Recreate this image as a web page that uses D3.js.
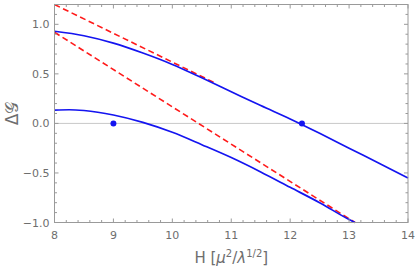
<!DOCTYPE html>
<html>
<head>
<meta charset="utf-8">
<script src="https://cdn.jsdelivr.net/npm/d3@7"></script>
<style>
  body { margin: 0; background: #fff; }
  svg { display: block; font-family: "DejaVu Sans", sans-serif; }
</style>
</head>
<body>
<svg id="chart" width="415" height="271"></svg>
<script>
(function(d3) {
  "use strict";

  // upper branch (blue, solid)
  var upperH = [8, 8.5, 9, 9.5, 10, 10.5, 11, 11.5, 12, 12.5, 13, 13.5, 14];
  var upperG = [0.93, 0.885, 0.81, 0.71, 0.595, 0.46, 0.32, 0.18, 0.045, -0.1, -0.25, -0.4, -0.55];
  // lower branch (blue, solid)
  var lowerH = [8, 8.25, 8.5, 9, 9.5, 10, 10.5, 11, 11.5, 12, 12.5, 13, 13.1];
  var lowerG = [0.135, 0.138, 0.13, 0.085, 0.01, -0.09, -0.215, -0.345, -0.49, -0.645, -0.8, -0.97, -1.0];
  // asymptotes (red, dashed): [start, end] points
  var asymUpperH = [8, 10.7];
  var asymUpperG = [1.2, 0.415];
  var asymLowerH = [8, 13.1];
  var asymLowerG = [0.92, -1.0];
  // marked points
  var dotH = [9, 12.2];
  var dotG = [0, 0];

  var xTicks = [8, 9, 10, 11, 12, 13, 14];
  var yTicks = [-1.0, -0.5, 0.0, 0.5, 1.0];

  var margin = { top: 4.5, right: 7, bottom: 48.5, left: 54.5 };
  var width = 415 - margin.left - margin.right;
  var height = 271 - margin.top - margin.bottom;

  var frameColor = "#9a9a9a";
  var labelColor = "#6e6e6e";

  var x = d3.scaleLinear().domain([8, 14]).range([0, width]);
  var y = d3.scaleLinear().domain([-1, 1.2]).range([height, 0]);

  var svg = d3.select("#chart")
    .append("g")
      .attr("transform", `translate(${margin.left}, ${margin.top})`);

  var zip = (hs, gs) => hs.map((h, i) => [h, gs[i]]);

  // zero line
  svg.append("line")
    .attr("x1", 0).attr("x2", width)
    .attr("y1", y(0)).attr("y2", y(0))
    .attr("stroke", "#c8c8c8")
    .attr("stroke-width", 1);

  var line = d3.line()
    .x(d => x(d[0]))
    .y(d => y(d[1]))
    .curve(d3.curveMonotoneX);

  var plot = svg.append("g");

  // red dashed asymptotes
  [zip(asymUpperH, asymUpperG), zip(asymLowerH, asymLowerG)].forEach(function(pts) {
    plot.append("path")
      .attr("d", d3.line().x(d => x(d[0])).y(d => y(d[1]))(pts))
      .attr("fill", "none")
      .attr("stroke", "#ff1a1a")
      .attr("stroke-width", 1.6)
      .attr("stroke-dasharray", "6,3.5");
  });

  // blue curves
  [zip(upperH, upperG), zip(lowerH, lowerG)].forEach(function(pts) {
    plot.append("path")
      .attr("d", line(pts))
      .attr("fill", "none")
      .attr("stroke", "#1414f0")
      .attr("stroke-width", 1.7);
  });

  // dots
  plot.selectAll("circle")
    .data(zip(dotH, dotG))
    .enter()
    .append("circle")
      .attr("cx", d => x(d[0]))
      .attr("cy", d => y(d[1]))
      .attr("r", 3)
      .attr("fill", "#1414f0");

  // frame
  svg.append("rect")
    .attr("width", width)
    .attr("height", height)
    .attr("fill", "none")
    .attr("stroke", frameColor)
    .attr("stroke-width", 1);

  // ticks, all four sides (labels only bottom / left)
  var xMinor = d3.range(8, 14.001, 0.2).filter(v => Math.abs(v - Math.round(v)) > 1e-6);
  var yMinor = d3.range(-1, 1.2001, 0.1).filter(v => Math.abs(v * 2 - Math.round(v * 2)) > 1e-6);

  var ticks = svg.append("g").attr("stroke", frameColor).attr("stroke-width", 1);
  function xTick(v, len) {
    ticks.append("line").attr("x1", x(v)).attr("x2", x(v)).attr("y1", height).attr("y2", height - len);
    ticks.append("line").attr("x1", x(v)).attr("x2", x(v)).attr("y1", 0).attr("y2", len);
  }
  function yTick(v, len) {
    ticks.append("line").attr("y1", y(v)).attr("y2", y(v)).attr("x1", 0).attr("x2", len);
    ticks.append("line").attr("y1", y(v)).attr("y2", y(v)).attr("x1", width).attr("x2", width - len);
  }
  xTicks.forEach(v => xTick(v, 4));
  xMinor.forEach(v => xTick(v, 2.5));
  yTicks.forEach(v => yTick(v, 4));
  yMinor.forEach(v => yTick(v, 2.5));

  svg.append("g").selectAll("text")
    .data(xTicks)
    .enter()
    .append("text")
      .attr("x", d => x(d))
      .attr("y", height + 16)
      .attr("text-anchor", "middle")
      .attr("font-size", 11)
      .attr("fill", labelColor)
      .text(d => d);

  svg.append("g").selectAll("text")
    .data(yTicks)
    .enter()
    .append("text")
      .attr("x", -5)
      .attr("y", d => y(d) + 4)
      .attr("text-anchor", "end")
      .attr("font-size", 11)
      .attr("fill", labelColor)
      .text(d => d === 0 ? "0.0" : d3.format(".1f")(d).replace("-", "\u2212"));

  // axis titles
  var xl = svg.append("text")
    .attr("x", width / 2)
    .attr("y", height + 40.5)
    .attr("text-anchor", "middle")
    .attr("font-size", 15)
    .attr("fill", labelColor);
  xl.append("tspan").text("H [");
  xl.append("tspan").attr("font-style", "italic").text("\u03bc");
  xl.append("tspan").attr("font-size", 10).attr("dy", -6).text("2");
  xl.append("tspan").attr("dy", 6).text("/");
  xl.append("tspan").attr("font-style", "italic").text("\u03bb");
  xl.append("tspan").attr("font-size", 10).attr("dy", -6).text("1/2");
  xl.append("tspan").attr("dy", 6).text("]");

  svg.append("text")
    .attr("transform", `translate(${-margin.left + 18}, ${y(0) - 10}) rotate(-90)`)
    .attr("text-anchor", "middle")
    .attr("font-size", 17)
    .attr("fill", labelColor)
    .text("\u0394\ud835\udca2");

})(d3);
</script>
</body>
</html>
